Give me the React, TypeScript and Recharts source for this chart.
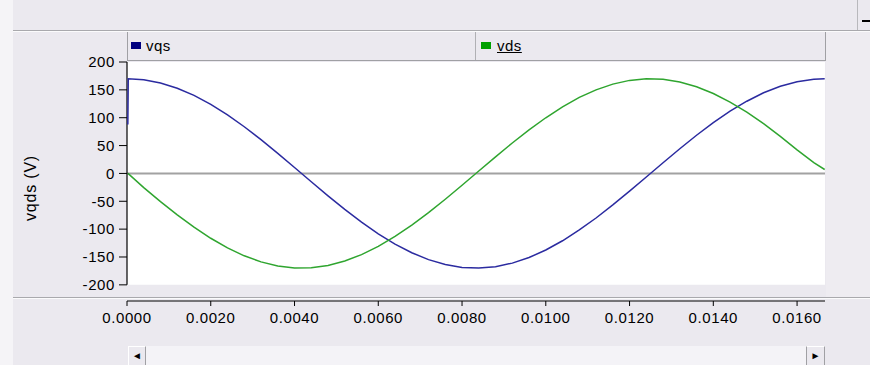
import {
	Line,
	LineChart,
	ReferenceArea,
	ReferenceLine,
	XAxis,
	YAxis,
} from "recharts";

// time (s)
const times = [
	0.00002, 0.00003, 0.0004, 0.0008, 0.0012, 0.0016, 0.002, 0.0024, 0.0028, 0.0032, 0.0036,
	0.004, 0.0044, 0.0048, 0.0052, 0.0056, 0.006, 0.0064, 0.0068, 0.0072, 0.0076, 0.008,
	0.0084, 0.0088, 0.0092, 0.0096, 0.01, 0.0104, 0.0108, 0.0112, 0.0116, 0.012, 0.0124,
	0.0128, 0.0132, 0.0136, 0.014, 0.0144, 0.0148, 0.0152, 0.0156, 0.016, 0.0164, 0.01666,
];

const vqs = [
	88, 170, 168.1, 162.3, 152.9, 140.0, 123.9, 105.0, 83.8, 60.6, 36.0, 10.7, -14.9, -40.2,
	-64.6, -87.5, -108.4, -126.8, -142.4, -154.7, -163.5, -168.7, -169.9, -167.4, -161.0,
	-151.0, -137.5, -120.9, -101.5, -80.0, -56.6, -31.9, -6.4, 19.2, 44.3, 68.5, 91.1, 111.7,
	129.6, 144.7, 156.4, 164.7, 169.1, 170,
];

const vds = [
	0, -0.5, -25.5, -50.5, -74.3, -96.4, -116.4, -133.7, -147.9, -158.8, -166.1, -169.7,
	-169.3, -165.2, -157.3, -145.8, -131.0, -113.2, -92.9, -70.4, -46.4, -21.3, 4.3, 29.8,
	54.6, 78.1, 99.9, 119.5, 136.4, 150.0, 160.3, 167.0, 169.9, 168.9, 164.1, 155.6, 143.5,
	128.1, 110.0, 89.3, 66.5, 42.3, 19.5, 7,
];

const xTicks = [0, 0.002, 0.004, 0.006, 0.008, 0.01, 0.012, 0.014, 0.016];
const yTicks = [-200, -150, -100, -50, 0, 50, 100, 150, 200];

const data = times.map((t, i) => ({ t, vqs: vqs[i], vds: vds[i] }));

const BG = "#ebe9ef";
const FONT = '"Liberation Sans", Arial, sans-serif';

function YLabel() {
	return (
		<text
			x={30}
			y={188}
			transform="rotate(-90 30 188)"
			textAnchor="middle"
			dominantBaseline="central"
			fontSize={16}
			letterSpacing={0.8}
			fill="#000"
			fontFamily={FONT}
		>
			vqds (V)
		</text>
	);
}

function Box({ style, children }: { style: React.CSSProperties; children?: React.ReactNode }) {
	return <div style={{ position: "absolute", boxSizing: "border-box", ...style }}>{children}</div>;
}

export default function App() {
	return (
		<div
			style={{
				position: "absolute",
				left: 0,
				top: 0,
				width: 870,
				height: 365,
				background: BG,
				overflow: "hidden",
				fontFamily: FONT,
			}}
		>
			{/* window chrome */}
			<Box style={{ left: 0, top: 0, width: 13, height: 365, background: "#f5f4f7" }} />
			<Box style={{ left: 13, top: 30, width: 857, height: 1, background: "#a9a9ad" }} />
			<Box style={{ left: 13, top: 31, width: 857, height: 1, background: "#fbfbfc" }} />
			<Box style={{ left: 857, top: 0, width: 1, height: 30, background: "#b8b8bc" }} />
			<Box style={{ left: 862, top: 20, width: 8, height: 2, background: "#000" }} />
			<Box style={{ left: 826, top: 32, width: 44, height: 265, background: "#eeecf1" }} />

			{/* legend bar */}
			<Box
				style={{
					left: 127,
					top: 32,
					width: 699,
					height: 29,
					borderLeft: "1px solid #a0a0a4",
					borderRight: "1px solid #a0a0a4",
					borderBottom: "1px solid #a0a0a4",
				}}
			/>
			<Box style={{ left: 475, top: 32, width: 1, height: 28, background: "#b0b0b4" }} />
			<Box style={{ left: 131, top: 42, width: 10, height: 7, background: "#000080" }} />
			<Box style={{ left: 146, top: 37, fontSize: 15, letterSpacing: 0.5, color: "#000" }}>vqs</Box>
			<Box style={{ left: 481, top: 42, width: 10, height: 7, background: "#00a000" }} />
			<Box
				style={{
					left: 497,
					top: 37,
					fontSize: 15,
					letterSpacing: 0.5,
					color: "#000",
					textDecoration: "underline",
				}}
			>
				vds
			</Box>

			<Box style={{ left: 13, top: 297, width: 857, height: 1, background: "#a9a9ad" }} />
			<Box style={{ left: 13, top: 298, width: 857, height: 1, background: "#fbfbfc" }} />

			{/* scrollbar */}
			<Box style={{ left: 128, top: 346, width: 697, height: 19, background: "#f4f3f7" }} />
			<Box
				style={{
					left: 128,
					top: 346,
					width: 18,
					height: 19,
					background: BG,
					borderTop: "1px solid #fff",
					borderLeft: "1px solid #fff",
					borderRight: "1px solid #a0a0a4",
					fontSize: 10,
					textAlign: "center",
					lineHeight: "18px",
				}}
			>
				◄
			</Box>
			<Box
				style={{
					left: 806,
					top: 346,
					width: 19,
					height: 19,
					background: BG,
					borderTop: "1px solid #fff",
					borderLeft: "1px solid #a0a0a4",
					borderRight: "1px solid #a0a0a4",
					fontSize: 10,
					textAlign: "center",
					lineHeight: "18px",
				}}
			>
				►
			</Box>

			<div style={{ position: "absolute", left: 0, top: 0 }}>
				<LineChart
					width={870}
					height={365}
					data={data}
					margin={{ top: 62, right: 45, bottom: 34, left: 67 }}
				>
					<ReferenceArea y1={-200} y2={200} fill="#ffffff" fillOpacity={1} stroke="none" />
					<XAxis
						dataKey="t"
						type="number"
						domain={[0, 0.016667]}
						ticks={xTicks}
						interval={0}
						allowDataOverflow
						tickFormatter={(v: number) => v.toFixed(4)}
						axisLine={{ stroke: "#000" }}
						tickLine={{ stroke: "#000" }}
						tickSize={5}
						tickMargin={6}
						height={30}
						tick={{ fill: "#000", fontSize: 15, fontFamily: FONT, letterSpacing: 0.6 }}
					/>
					<YAxis
						type="number"
						domain={[-229, 200]}
						ticks={yTicks}
						interval={0}
						allowDataOverflow
						axisLine={false}
						tickLine={{ stroke: "#000" }}
						tickSize={8}
						tickMargin={4}
						width={60}
						tick={{ fill: "#000", fontSize: 15, fontFamily: FONT, letterSpacing: 0.6 }}
						label={<YLabel />}
					/>
					<ReferenceLine y={0} stroke="#a2a2a2" strokeWidth={2} />
					<ReferenceLine
						segment={[
							{ x: 0, y: -200 },
							{ x: 0, y: 200 },
						]}
						stroke="#000"
						strokeWidth={1.2}
					/>
					<Line
						type="linear"
						dataKey="vqs"
						stroke="#2b2ba0"
						strokeWidth={1.5}
						dot={false}
						isAnimationActive={false}
					/>
					<Line
						type="linear"
						dataKey="vds"
						stroke="#2fa52f"
						strokeWidth={1.5}
						dot={false}
						isAnimationActive={false}
					/>
				</LineChart>
			</div>
		</div>
	);
}
